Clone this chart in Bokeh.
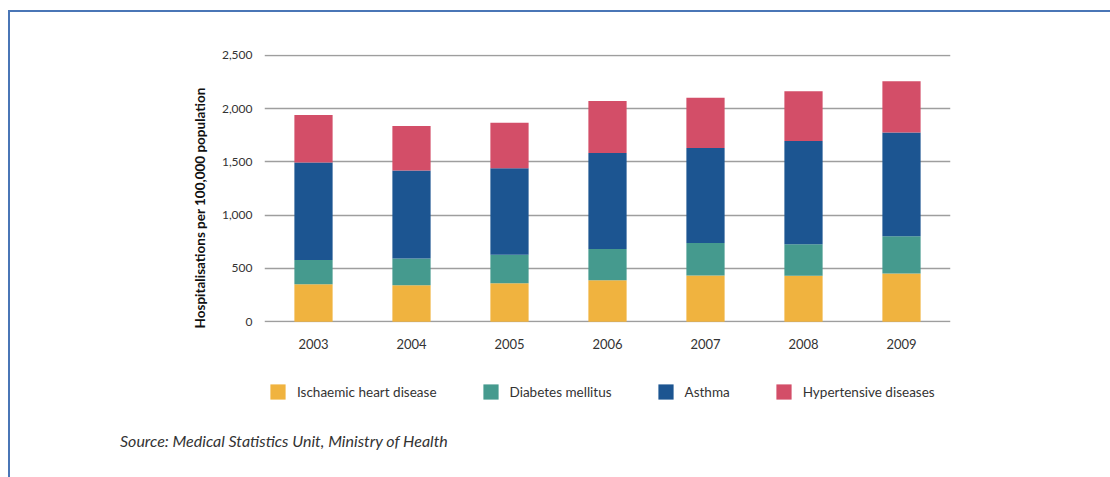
from bokeh.plotting import figure
from bokeh.layouts import column
from bokeh.models import Legend, LegendItem, Div, Title, NumeralTickFormatter, FixedTicker, Range1d
from bokeh.embed import file_html
from bokeh.resources import INLINE

# Hospitalisations per 100,000 population, by condition
years = ["2003", "2004", "2005", "2006", "2007", "2008", "2009"]
ischaemic = [350, 342, 361, 389, 433, 430, 452]
diabetes = [228, 251, 266, 294, 306, 297, 350]
asthma = [916, 825, 813, 900, 891, 969, 973]
hypertensive = [447, 419, 428, 488, 473, 466, 481]

series_keys = ["ihd", "dm", "asthma", "ht"]
series_names = ["Ischaemic heart disease", "Diabetes mellitus", "Asthma", "Hypertensive diseases"]
colors = ["#F0B33F", "#459A8E", "#1C5591", "#D34E68"]
y_ticks = [0, 500, 1000, 1500, 2000, 2500]

FONT = "Lato"

data = {"year": years, "ihd": ischaemic, "dm": diabetes, "asthma": asthma, "ht": hypertensive}

# --- main stacked bar chart ---
p = figure(
    x_range=years, y_range=Range1d(-8, 2508),
    width=1100, height=353,
    output_backend="svg", toolbar_location=None,
    min_border_left=254, min_border_right=160,
    min_border_top=42, min_border_bottom=43,
)
p.x_range.range_padding = 0.0

p.vbar_stack(series_keys, x="year", width=0.39, color=colors, source=data, line_color=None)

p.outline_line_color = None
p.xgrid.grid_line_color = None
p.ygrid.grid_line_color = "#9E9E9E"
p.ygrid.grid_line_width = 1.5
p.yaxis.ticker = FixedTicker(ticks=y_ticks)
p.yaxis.formatter = NumeralTickFormatter(format="0,0")

for ax in (p.xaxis, p.yaxis):
    ax.axis_line_color = None
    ax.major_tick_line_color = None
    ax.minor_tick_line_color = None
    ax.major_label_text_font = FONT
    ax.major_label_text_color = "#333333"

p.xaxis.major_label_text_font_size = "13px"
p.xaxis.major_label_standoff = 10
p.yaxis.major_label_text_font_size = "12px"
p.yaxis.major_label_standoff = 6

# vertical axis title, anchored near the bottom of the plot area
p.add_layout(
    Title(
        text="Hospitalisations per 100,000 population",
        align="left", offset=-6, standoff=22,
        text_font=FONT, text_font_style="bold", text_font_size="13.5px",
        text_color="#111111",
    ),
    "left",
)

# --- legend strip: the same series keyed against a factor they do not use,
# so only the legend swatches appear ---
foot = figure(
    x_range=["key"], y_range=Range1d(0, 1),
    width=1100, height=50,
    output_backend="svg", toolbar_location=None,
    x_axis_location=None, y_axis_location=None,
    min_border_left=254, min_border_right=160, min_border_top=0, min_border_bottom=0,
)
foot.outline_line_color = None
foot.grid.visible = False

swatches = foot.vbar_stack(series_keys, x="year", width=0.39, color=colors, source=data, line_color=None)

legend = Legend(
    items=[LegendItem(label=n, renderers=[r]) for n, r in zip(series_names, swatches)],
    orientation="horizontal", location=(4, 14),
    glyph_width=19, glyph_height=19, label_height=19,
    label_standoff=10, spacing=44, padding=0, margin=0,
    border_line_color=None, background_fill_alpha=0,
    label_text_font=FONT, label_text_font_size="13.5px", label_text_color="#333333",
)
foot.add_layout(legend, "center")

source_note = Div(
    text=(
        '<div style="padding-left:105px;padding-top:10px;font-family:Lato;'
        'font-style:italic;font-size:16px;color:#333333;white-space:nowrap;">'
        "Source: Medical Statistics Unit, Ministry of Health</div>"
    ),
    width=1100, height=62,
)

page = column(
    p, foot, source_note, spacing=0,
    styles={
        "margin-left": "8px", "margin-top": "10px",
        "border-top": "2px solid #4A76B6", "border-left": "2px solid #4A76B6",
    },
)

open("out.html", "w").write(file_html(page, INLINE))
